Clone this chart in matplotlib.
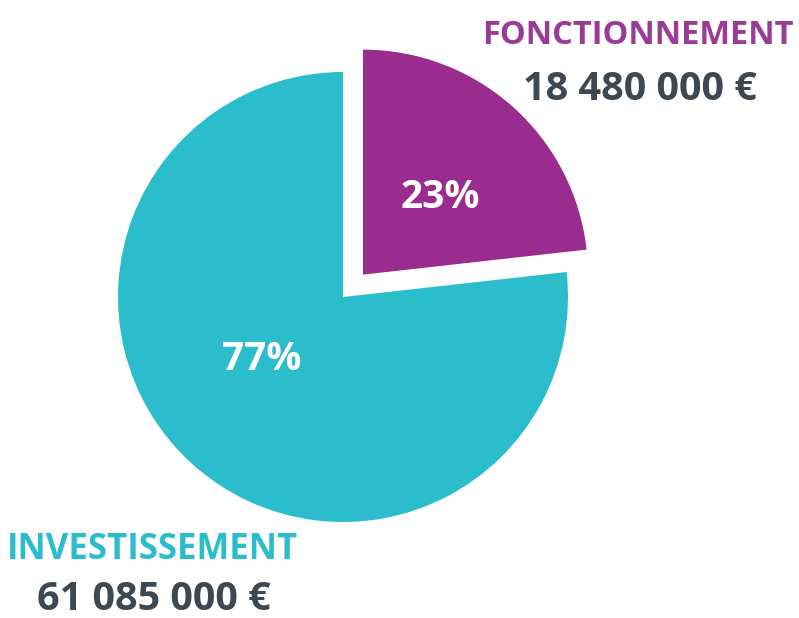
import matplotlib.pyplot as plt

# données
categories = ['FONCTIONNEMENT', 'INVESTISSEMENT']
montants = [18480000, 61085000]
couleurs = ['#9B2C8F', '#2BBDCC']
couleurs_texte = ['#9A3C96', '#2BBDCC']
gris = '#3D4852'

W, H = 799, 618
fig = plt.figure(figsize=(W / 100, H / 100), dpi=100)
ax = fig.add_axes([0, 0, 1, 1])

# repère en pixels (y vers le haut)
cx, cy, r = 343, H - 297, 225
wedges, _ = ax.pie(montants, colors=couleurs, startangle=90, counterclock=False,
                   center=(cx, cy), radius=r, explode=[30, 0])
ax.set_xlim(0, W)
ax.set_ylim(0, H)
ax.set_aspect('equal')
ax.axis('off')

total = sum(montants)
pct = [round(100 * m / total) for m in montants]

def fmt(v):
    return f"{v:,}".replace(',', ' ') + ' €'

font = 'Open Sans'
# pourcentages dans les parts
ax.text(440, H - 197, f"{pct[0]}%", color='white', fontsize=28, fontweight='bold',
        family=font, ha='center', va='center')
ax.text(262, H - 360, f"{pct[1]}%", color='white', fontsize=28, fontweight='bold',
        family=font, ha='center', va='center')

# étiquettes
ax.text(638, H - 44, categories[0], color=couleurs_texte[0], fontsize=23.5,
        fontweight='bold', family=font, ha='center', va='baseline')
ax.text(640, H - 100, fmt(montants[0]), color=gris, fontsize=28.5,
        fontweight='bold', family=font, ha='center', va='baseline')
ax.text(153, H - 559, categories[1], color=couleurs_texte[1], fontsize=25,
        fontweight='bold', family=font, ha='center', va='baseline')
ax.text(154, H - 610, fmt(montants[1]), color=gris, fontsize=28.5,
        fontweight='bold', family=font, ha='center', va='baseline')

fig.savefig('out.png', dpi=100)
